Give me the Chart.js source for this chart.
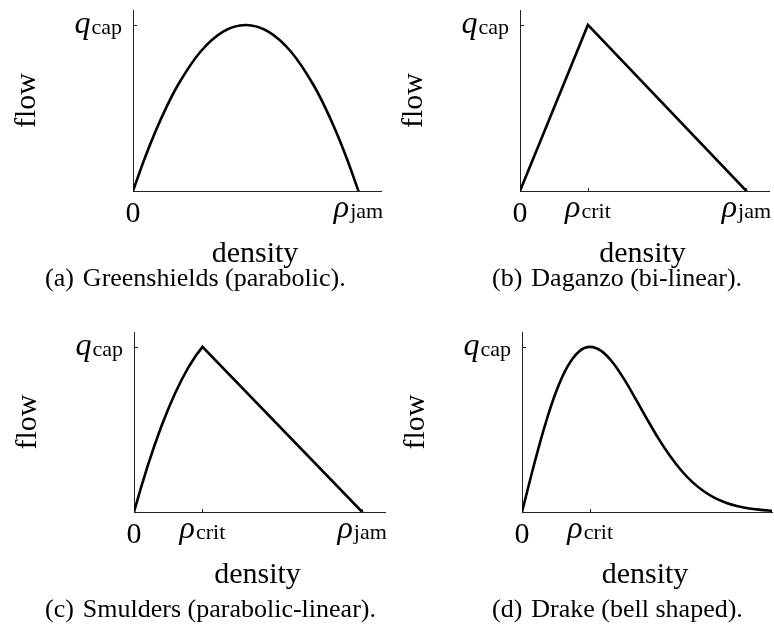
<!DOCTYPE html>
<html>
<head>
<meta charset="utf-8">
<title>Fundamental diagrams</title>
<script src="https://cdn.jsdelivr.net/npm/chart.js@4/dist/chart.umd.min.js"></script>
<style>
  html, body { margin: 0; padding: 0; background: #fff; }
  #fig { position: relative; width: 774px; height: 628px; overflow: hidden; }
  .panel { position: absolute; width: 387px; height: 314px; }
</style>
</head>
<body>
<div id="fig">
  <div class="panel" style="left:0;top:0"><canvas id="panelA"></canvas></div>
  <div class="panel" style="left:387px;top:0"><canvas id="panelB"></canvas></div>
  <div class="panel" style="left:0;top:314px"><canvas id="panelC"></canvas></div>
  <div class="panel" style="left:387px;top:314px"><canvas id="panelD"></canvas></div>
</div>
<script>
// Density is expressed as a fraction of the jam density, flow as a fraction of capacity.

// (a) Greenshields – parabolic
const greenDensity = [0, 0.05, 0.1, 0.15, 0.2, 0.3, 0.4, 0.5, 0.6, 0.7, 0.8, 0.85, 0.9, 0.95, 1];
const greenFlow    = [0, 0.19, 0.36, 0.51, 0.64, 0.84, 0.96, 1, 0.96, 0.84, 0.64, 0.51, 0.36, 0.19, 0];

// (b) Daganzo – bi-linear
const daganzoDensity = [0, 0.3, 1];
const daganzoFlow    = [0, 1, 0];

// (c) Smulders – parabolic up to the critical density, linear afterwards
const smuldersDensity = [0, 0.03, 0.06, 0.09, 0.12, 0.15, 0.18, 0.21, 0.24, 0.27, 0.3, 1];
const smuldersFlow    = [0, 0.144, 0.279, 0.404, 0.519, 0.624, 0.719, 0.804, 0.88, 0.945, 1, 0];

// (d) Drake – bell shaped
const drakeDensity = [0, 0.05, 0.1, 0.15, 0.2, 0.25, 0.3, 0.35, 0.4, 0.45, 0.5, 0.55, 0.6, 0.65, 0.7, 0.75, 0.8, 0.85, 0.9, 0.95, 1, 1.05, 1.1];
const drakeFlow    = [0, 0.271, 0.52, 0.728, 0.88, 0.971, 1, 0.974, 0.904, 0.803, 0.685, 0.563, 0.446, 0.342, 0.253, 0.181, 0.126, 0.084, 0.055, 0.035, 0.021, 0.013, 0.007];

// Tick positions and their labels ("_" separates a symbol from its subscript)
const rhoCrit = 0.3;
const rhoJam = 1;
const qCap = 1;
const xTicksA = [0, rhoJam];            const xLabelsA = ['0', 'ρ_jam'];
const xTicksB = [0, rhoCrit, rhoJam];   const xLabelsB = ['0', 'ρ_crit', 'ρ_jam'];
const xTicksC = [0, rhoCrit, rhoJam];   const xLabelsC = ['0', 'ρ_crit', 'ρ_jam'];
const xTicksD = [0, rhoCrit];           const xLabelsD = ['0', 'ρ_crit'];
const yTicks = [qCap];                  const yLabels = ['q_cap'];

const xTitle = 'density';
const yTitle = 'flow';
const captionTags = ['(a)', '(b)', '(c)', '(d)'];
const captions = ['Greenshields (parabolic).', 'Daganzo (bi-linear).', 'Smulders (parabolic-linear).', 'Drake (bell shaped).'];

const X_MAX = 1.1;
const Y_MAX = 1.09;

const SERIF = '"Liberation Serif", "Times New Roman", serif';
const DIGIT_PX = 30;
const SYMBOL_PX = 32;
const SUB_PX = 22;
const CAPTION_PX = 26;
const TITLE_PX = 30;

// Draws "symbol_sub" as italic symbol + roman subscript, or plain text.
function drawMathLabel(ctx, label, x, baseline, align) {
  const parts = label.split('_');
  const main = parts[0];
  const sub = parts[1];
  const mainFont = sub ? 'italic ' + SYMBOL_PX + 'px ' + SERIF : DIGIT_PX + 'px ' + SERIF;
  const subFont = SUB_PX + 'px ' + SERIF;
  ctx.font = mainFont;
  const wMain = ctx.measureText(main).width;
  let wSub = 0;
  if (sub) { ctx.font = subFont; wSub = ctx.measureText(sub).width + 1; }
  const total = wMain + wSub;
  let x0 = x;
  if (align === 'center') x0 = x - total / 2;
  else if (align === 'right') x0 = x - total;
  ctx.textAlign = 'left';
  ctx.textBaseline = 'alphabetic';
  ctx.font = mainFont;
  ctx.fillText(main, x0, baseline);
  if (sub) {
    ctx.font = subFont;
    ctx.fillText(sub, x0 + wMain + 1, baseline + 1);
  }
}

// Plugin: inward tick marks, math tick labels, axis titles and the sub-caption.
const diagramText = {
  id: 'diagramText',
  afterDraw(chart, args, opts) {
    const { ctx, chartArea: area, scales: { x, y } } = chart;
    ctx.save();
    ctx.fillStyle = '#000';
    ctx.strokeStyle = '#222';
    ctx.lineWidth = 1;

    // tick marks pointing into the plot
    opts.xTicks.forEach(v => {
      if (v === 0) return;
      const px = Math.round(x.getPixelForValue(v)) + 0.5;
      ctx.beginPath(); ctx.moveTo(px, area.bottom); ctx.lineTo(px, area.bottom - 3); ctx.stroke();
    });
    opts.yTicks.forEach(v => {
      const py = Math.round(y.getPixelForValue(v)) + 0.5;
      ctx.beginPath(); ctx.moveTo(area.left, py); ctx.lineTo(area.left + 4, py); ctx.stroke();
    });

    // x tick labels
    opts.xTicks.forEach((v, i) => {
      const label = opts.xLabels[i];
      const px = x.getPixelForValue(v);
      const base = area.bottom + (label.indexOf('_') >= 0 ? 26 : 31);
      drawMathLabel(ctx, label, px, base, 'center');
    });
    // y tick labels
    opts.yTicks.forEach((v, i) => {
      drawMathLabel(ctx, opts.yLabels[i], area.left - 11, y.getPixelForValue(v) + 8, 'right');
    });

    // axis titles
    ctx.font = TITLE_PX + 'px ' + SERIF;
    ctx.textAlign = 'center';
    ctx.textBaseline = 'alphabetic';
    ctx.fillText(xTitle, (area.left + area.right) / 2 - 2, area.bottom + 71);
    ctx.save();
    ctx.translate(area.left - 106, (area.top + area.bottom) / 2);
    ctx.rotate(-Math.PI / 2);
    ctx.textBaseline = 'middle';
    ctx.fillText(yTitle, 0, 0);
    ctx.restore();

    // sub-caption
    ctx.font = CAPTION_PX + 'px ' + SERIF;
    ctx.textAlign = 'left';
    ctx.textBaseline = 'alphabetic';
    const tagW = ctx.measureText(opts.tag).width;
    ctx.fillText(opts.tag, opts.captionX, opts.captionY);
    ctx.fillText(opts.caption, opts.captionX + tagW + 9, opts.captionY);
    ctx.restore();
  }
};

function makePanel(id, density, flow, smooth, xTicks, xLabels, idx, padding, captionX, captionY) {
  const points = density.map((d, i) => ({ x: d, y: flow[i] }));
  return new Chart(document.getElementById(id), {
    type: 'line',
    data: {
      datasets: [{
        data: points,
        borderColor: '#000',
        borderWidth: 2.6,
        pointRadius: 0,
        fill: false,
        tension: 0,
        cubicInterpolationMode: smooth ? 'monotone' : 'default',
        borderJoinStyle: 'miter',
        borderCapStyle: 'round'
      }]
    },
    options: {
      responsive: true,
      maintainAspectRatio: false,
      animation: false,
      events: [],
      layout: { padding: padding, autoPadding: false },
      plugins: {
        legend: { display: false },
        tooltip: { enabled: false },
        diagramText: {
          xTicks: xTicks, xLabels: xLabels, yTicks: yTicks, yLabels: yLabels,
          tag: captionTags[idx], caption: captions[idx], captionX: captionX, captionY: captionY
        }
      },
      scales: {
        x: {
          type: 'linear', min: 0, max: X_MAX,
          ticks: { display: false },
          grid: { display: false, drawTicks: false },
          border: { display: true, color: '#222', width: 1 }
        },
        y: {
          type: 'linear', min: 0, max: Y_MAX,
          ticks: { display: false },
          grid: { display: false, drawTicks: false },
          border: { display: true, color: '#222', width: 1 }
        }
      }
    },
    plugins: [diagramText]
  });
}

makePanel('panelA', greenDensity, greenFlow, true, xTicksA, xLabelsA, 0,
  { left: 133, top: 10, right: 6, bottom: 123 }, 45, 286);
makePanel('panelB', daganzoDensity, daganzoFlow, false, xTicksB, xLabelsB, 1,
  { left: 133, top: 10, right: 5, bottom: 123 }, 105, 286);
makePanel('panelC', smuldersDensity, smuldersFlow, false, xTicksC, xLabelsC, 2,
  { left: 134, top: 18, right: 2, bottom: 116 }, 45, 303);
makePanel('panelD', drakeDensity, drakeFlow, true, xTicksD, xLabelsD, 3,
  { left: 135, top: 18, right: 2, bottom: 116 }, 105, 303);
</script>
</body>
</html>
